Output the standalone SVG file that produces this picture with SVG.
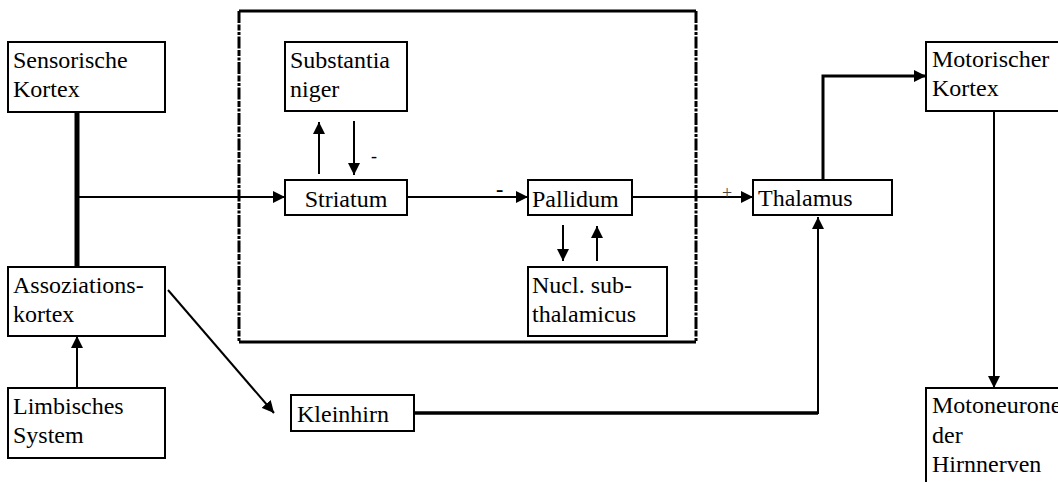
<svg xmlns="http://www.w3.org/2000/svg" width="1058" height="482" viewBox="0 0 1058 482">
<style>
.box{fill:#fff;stroke:#000;stroke-width:2}
.c{fill:none;stroke:#000;stroke-width:2}
.f{stroke:#000;stroke-width:3}
.fd{stroke-dasharray:12 1.5 6 1.5 3 1.5}
.t{font-family:'Liberation Serif','Times New Roman',serif;font-size:24px;fill:#000}
.s{font-family:'Liberation Serif','Times New Roman',serif;fill:#000}
</style>
<defs>
<marker id="ah" markerUnits="userSpaceOnUse" markerWidth="13" markerHeight="12" refX="12" refY="6" orient="auto">
<path d="M0,0 L12,6 L0,12 Z" fill="#000"/>
</marker>
</defs>
<rect width="1058" height="482" fill="#fff"/>
<g id="frame">
<line class="f" x1="239" y1="11" x2="696" y2="11"/>
<line class="f" x1="239" y1="342" x2="696" y2="342"/>
<line class="f fd" x1="239" y1="11" x2="239" y2="342"/>
<line class="f fd" x1="696" y1="11" x2="696" y2="342"/>
</g>
<g id="connectors">
<line class="c" x1="77" y1="112" x2="77" y2="267" stroke-width="5" style="stroke-width:5"/>
<line class="c" x1="77" y1="197" x2="285" y2="197" marker-end="url(#ah)"/>
<line class="c" x1="319" y1="174" x2="319" y2="122" marker-end="url(#ah)"/>
<line class="c" x1="354" y1="121" x2="354" y2="175" marker-end="url(#ah)"/>
<line class="c" x1="407" y1="197" x2="528" y2="197" marker-end="url(#ah)"/>
<line class="c" x1="563" y1="225" x2="563" y2="261" marker-end="url(#ah)"/>
<line class="c" x1="597" y1="261" x2="597" y2="226" marker-end="url(#ah)"/>
<line class="c" x1="632" y1="197" x2="753" y2="197" marker-end="url(#ah)"/>
<polyline class="c" points="823,180 823,76 926,76" style="stroke-width:3" marker-end="url(#ah)"/>
<line class="c" x1="994" y1="111" x2="994" y2="388" marker-end="url(#ah)"/>
<polyline class="c" points="414,413 818,413" style="stroke-width:3.5"/>
<line class="c" x1="818" y1="414" x2="818" y2="217" marker-end="url(#ah)"/>
<line class="c" x1="77" y1="388" x2="77" y2="336" marker-end="url(#ah)"/>
<line class="c" x1="168" y1="290" x2="274" y2="413" marker-end="url(#ah)"/>
<text class="s" x="371" y="162" font-size="18">-</text>
<text class="s" x="496" y="196" font-size="22" font-weight="bold">-</text>
<text class="s" x="722" y="199" font-size="18" style="fill:#444">+</text>
</g>
<g id="sensorische"><rect class="box" x="8" y="42" width="157" height="70"/><text class="t" x="13" y="68">Sensorische</text><text class="t" x="13" y="97">Kortex</text></g>
<g id="substantia"><rect class="box" x="285" y="42" width="122" height="69"/><text class="t" x="290" y="68">Substantia</text><text class="t" x="290" y="97">niger</text></g>
<g id="striatum"><rect class="box" x="285" y="180" width="122" height="35"/><text class="t" x="346" y="207" text-anchor="middle">Striatum</text></g>
<g id="pallidum"><rect class="box" x="528" y="180" width="104" height="35"/><text class="t" x="532" y="207">Pallidum</text></g>
<g id="nucl"><rect class="box" x="528" y="267" width="139" height="69"/><text class="t" x="532" y="293">Nucl. sub-</text><text class="t" x="532" y="322">thalamicus</text></g>
<g id="thalamus"><rect class="box" x="753" y="180" width="139" height="35"/><text class="t" x="758" y="206">Thalamus</text></g>
<g id="motorischer"><rect class="box" x="926" y="42" width="140" height="69"/><text class="t" x="932" y="67">Motorischer</text><text class="t" x="932" y="96">Kortex</text></g>
<g id="motoneurone"><rect class="box" x="926" y="388" width="140" height="100"/><text class="t" x="932" y="413">Motoneurone</text><text class="t" x="932" y="443">der</text><text class="t" x="932" y="472">Hirnnerven</text></g>
<g id="assoziations"><rect class="box" x="8" y="267" width="157" height="69"/><text class="t" x="13" y="293">Assoziations-</text><text class="t" x="13" y="322">kortex</text></g>
<g id="limbisches"><rect class="box" x="8" y="388" width="157" height="70"/><text class="t" x="13" y="414">Limbisches</text><text class="t" x="13" y="443">System</text></g>
<g id="kleinhirn"><rect class="box" x="291" y="395" width="123" height="36"/><text class="t" x="297" y="422">Kleinhirn</text></g>
</svg>
